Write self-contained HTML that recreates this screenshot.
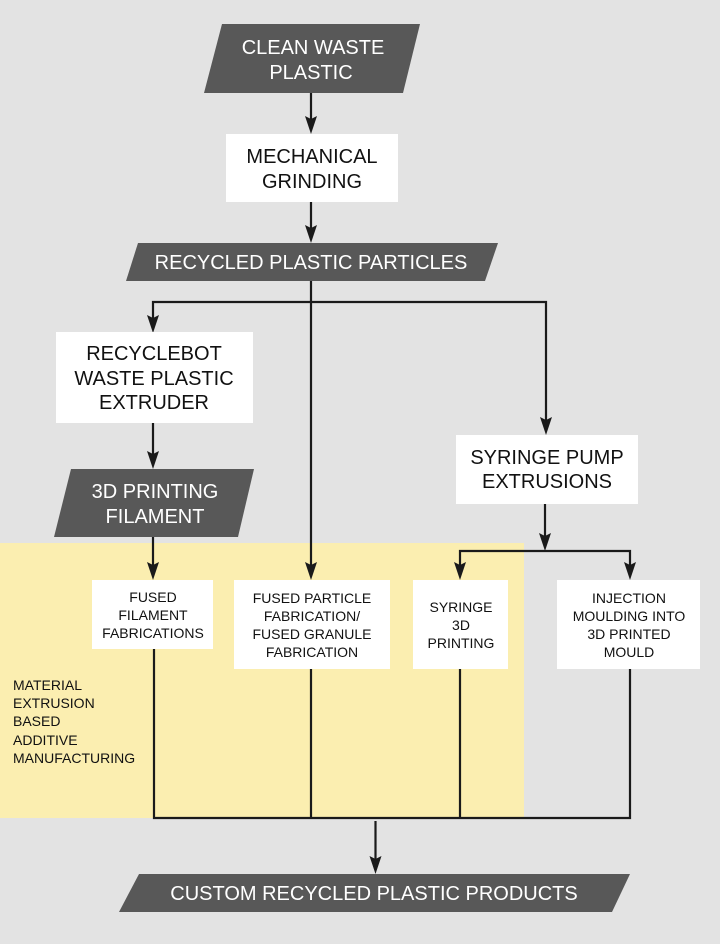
<!DOCTYPE html>
<html><head><meta charset="utf-8"><style>
html,body{margin:0;padding:0;background:#e3e3e3;}
svg{display:block;}
text{font-family:"Liberation Sans",sans-serif;text-anchor:middle;}
.w{fill:#fff;}
.d{fill:#585858;}
.tl{fill:#fff;font-size:20px;}
.tb{fill:#111;font-size:20px;}
.ts{fill:#111;font-size:14px;}
.ln{stroke:#1a1a1a;stroke-width:2.2;fill:none;}
.ar{fill:#1a1a1a;}
</style></head><body>
<svg width="720" height="944" viewBox="0 0 720 944" xmlns="http://www.w3.org/2000/svg">
<rect x="0" y="0" width="720" height="944" fill="#e3e3e3"/>
<rect x="0" y="543" width="524" height="275" fill="#fbeeb0"/>

<!-- connectors -->
<line class="ln" x1="311" y1="93" x2="311" y2="124"/>
<line class="ln" x1="311" y1="202" x2="311" y2="233"/>
<line class="ln" x1="311" y1="281" x2="311" y2="570"/>
<polyline class="ln" points="153,323 153,302 546,302 546,425"/>
<line class="ln" x1="153" y1="423" x2="153" y2="459"/>
<line class="ln" x1="153" y1="537" x2="153" y2="570"/>
<line class="ln" x1="545" y1="504" x2="545" y2="541"/>
<polyline class="ln" points="460,570 460,551 630,551 630,570"/>
<polyline class="ln" points="154,649 154,818 630,818 630,669"/>
<line class="ln" x1="311" y1="669" x2="311" y2="818"/>
<line class="ln" x1="460" y1="669" x2="460" y2="818"/>
<line class="ln" x1="375.5" y1="821" x2="375.5" y2="864"/>

<!-- arrowheads -->
<polygon class="ar" points="305,116 311,119 317,116 311,134"/>
<polygon class="ar" points="305,225 311,228 317,225 311,243"/>
<polygon class="ar" points="305,562 311,565 317,562 311,580"/>
<polygon class="ar" points="147,315 153,318 159,315 153,333"/>
<polygon class="ar" points="540,417 546,420 552,417 546,435"/>
<polygon class="ar" points="147,451 153,454 159,451 153,469"/>
<polygon class="ar" points="147,562 153,565 159,562 153,580"/>
<polygon class="ar" points="539,533 545,536 551,533 545,551"/>
<polygon class="ar" points="454,562 460,565 466,562 460,580"/>
<polygon class="ar" points="624,562 630,565 636,562 630,580"/>
<polygon class="ar" points="369.5,856 375.5,859 381.5,856 375.5,874"/>

<!-- dark parallelograms -->
<polygon class="d" points="222,24 420,24 403,93 204,93"/>
<text class="tl" x="313" y="54">CLEAN WASTE</text>
<text class="tl" x="311" y="79">PLASTIC</text>

<polygon class="d" points="138,243 498,243 485,281 126,281"/>
<text class="tl" x="311" y="269">RECYCLED PLASTIC PARTICLES</text>

<polygon class="d" points="71,469 254,469 238,537 54,537"/>
<text class="tl" x="155" y="498">3D PRINTING</text>
<text class="tl" x="155" y="523">FILAMENT</text>

<polygon class="d" points="139,874 630,874 612,912 119,912"/>
<text class="tl" x="374" y="900">CUSTOM RECYCLED PLASTIC PRODUCTS</text>

<!-- white boxes -->
<rect class="w" x="226" y="134" width="172" height="68"/>
<text class="tb" x="312" y="163">MECHANICAL</text>
<text class="tb" x="312" y="188">GRINDING</text>

<rect class="w" x="56" y="332" width="197" height="91"/>
<text class="tb" x="154" y="360">RECYCLEBOT</text>
<text class="tb" x="154" y="385">WASTE PLASTIC</text>
<text class="tb" x="154" y="409">EXTRUDER</text>

<rect class="w" x="456" y="435" width="182" height="69"/>
<text class="tb" x="547" y="464">SYRINGE PUMP</text>
<text class="tb" x="547" y="488">EXTRUSIONS</text>

<rect class="w" x="92" y="580" width="121" height="69"/>
<text class="ts" x="153" y="602">FUSED</text>
<text class="ts" x="153" y="620">FILAMENT</text>
<text class="ts" x="153" y="638">FABRICATIONS</text>

<rect class="w" x="234" y="580" width="156" height="89"/>
<text class="ts" x="312" y="603">FUSED PARTICLE</text>
<text class="ts" x="312" y="621">FABRICATION/</text>
<text class="ts" x="312" y="639">FUSED GRANULE</text>
<text class="ts" x="312" y="657">FABRICATION</text>

<rect class="w" x="413" y="580" width="95" height="89"/>
<text class="ts" x="461" y="612">SYRINGE</text>
<text class="ts" x="461" y="630">3D</text>
<text class="ts" x="461" y="648">PRINTING</text>

<rect class="w" x="557" y="580" width="143" height="89"/>
<text class="ts" x="629" y="603">INJECTION</text>
<text class="ts" x="629" y="621">MOULDING INTO</text>
<text class="ts" x="629" y="639">3D PRINTED</text>
<text class="ts" x="629" y="657">MOULD</text>

<text class="ts" x="13" y="690" style="text-anchor:start">MATERIAL</text>
<text class="ts" x="13" y="708" style="text-anchor:start">EXTRUSION</text>
<text class="ts" x="13" y="726" style="text-anchor:start">BASED</text>
<text class="ts" x="13" y="745" style="text-anchor:start">ADDITIVE</text>
<text class="ts" x="13" y="763" style="text-anchor:start">MANUFACTURING</text>
</svg>
</body></html>
